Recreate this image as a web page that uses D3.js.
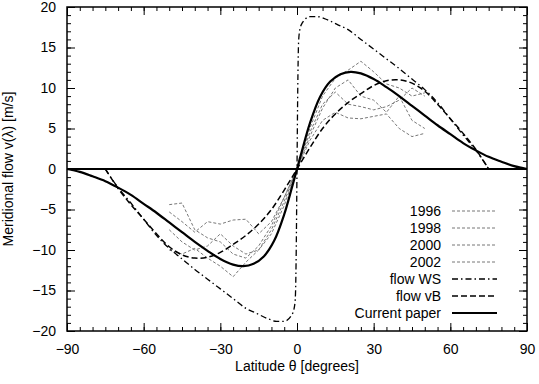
<!DOCTYPE html>
<html>
<head>
<meta charset="utf-8">
<script src="https://cdn.jsdelivr.net/npm/d3@7"></script>
<style>
  body { margin: 0; background: #fff; }
  text { font-family: 'Liberation Sans', Arial, sans-serif; }
</style>
</head>
<body>
<div id="chart"></div>
<script>
const W = 539, H = 384,
    margin = {left: 67, right: 12, top: 7, bottom: 53};

// tick labels
const xTicks = [-90, -60, -30, 0, 30, 60, 90];
const yTicks = [-20, -15, -10, -5, 0, 5, 10, 15, 20];

// current paper (solid)
const paperLat = [-90, -85, -80, -75, -70, -65, -60, -55, -50, -45, -40, -35, -30, -25, -21, -17, -13, -9, -5, -2, 0,
                  2, 5, 9, 13, 17, 21, 25, 30, 35, 40, 45, 50, 55, 60, 65, 70, 75, 80, 85, 90];
const paperV = [0, -0.35, -0.9, -1.5, -2.3, -3.2, -4.3, -5.4, -6.6, -7.8, -9.0, -10.1, -11.1, -11.8, -12.0, -11.7, -10.8, -8.9, -5.6, -2.3, 0,
                2.3, 5.6, 8.9, 10.8, 11.7, 12.0, 11.8, 11.1, 10.1, 9.0, 7.8, 6.6, 5.4, 4.3, 3.2, 2.3, 1.5, 0.9, 0.35, 0];

// flow vB (dashed)
const vbLat = [-75, -70, -65, -60, -55, -50, -45, -40, -35, -30, -25, -20, -15, -10, -5, 0,
               5, 10, 15, 20, 25, 30, 35, 40, 45, 50, 55, 60, 65, 70, 75];
const vbV = [0, -2.4, -4.4, -6.2, -8.0, -9.6, -10.6, -11.0, -10.9, -10.3, -9.3, -8.2, -6.8, -5.0, -2.6, 0,
             2.6, 5.0, 6.8, 8.2, 9.3, 10.3, 10.9, 11.0, 10.6, 9.6, 8.0, 6.2, 4.4, 2.4, 0];

// flow WS (dash-dot)
const wsLat = [-75, -70, -65, -60, -55, -50, -45, -40, -35, -30, -25, -20, -16, -12, -8, -5, -2, -1, -0.6, -0.3, 0,
               0.3, 0.6, 1, 2, 5, 8, 12, 16, 20, 25, 30, 35, 40, 45, 50, 55, 60, 65, 70, 75];
const wsV = [0, -2.3, -4.2, -6.2, -8.2, -9.8, -11.1, -12.4, -13.6, -14.8, -16.0, -17.2, -17.8, -18.4, -18.8, -18.8, -18.0, -17.0, -15.5, -10.0, 0,
             10.0, 15.5, 17.0, 18.0, 18.8, 18.8, 18.4, 17.8, 17.2, 16.0, 14.8, 13.6, 12.4, 11.1, 9.8, 8.2, 6.2, 4.2, 2.3, 0];

// observations (dotted)
const obsLat = [-50, -45, -40, -35, -30, -25, -20, -15, -10, -5, 0, 5, 10, 15, 20, 25, 30, 35, 40, 45, 50];
const obs1996 = [-4.4, -4.2, -7.5, -8.5, -9.0, -10.5, -11.0, -9.5, -7.0, -3.5, 0, 5.0, 9.0, 11.2, 12.2, 13.3, 12.0, 10.5, 10.0, 9.0, 9.4];
const obs1998 = [-5.3, -6.5, -7.8, -6.5, -6.8, -6.3, -6.2, -8.0, -6.5, -3.5, 0, 3.5, 6.0, 7.0, 6.3, 6.2, 6.5, 6.8, 5.0, 4.0, 4.4];
const obs2000 = [-7.5, -9.0, -10.0, -9.5, -8.0, -9.5, -10.5, -10.0, -7.5, -4.0, 0, 4.5, 8.0, 9.5, 8.0, 7.7, 7.3, 7.7, 8.5, 10.0, 9.0];
const obs2002 = [-10.0, -10.5, -9.8, -11.0, -12.0, -13.3, -11.5, -10.0, -8.0, -4.5, 0, 4.0, 7.5, 10.0, 11.0, 9.0, 8.5, 7.0, 9.0, 6.0, 5.0];

const legendNames = ['1996', '1998', '2000', '2002', 'flow WS', 'flow vB', 'Current paper'];

const svg = d3.select('#chart').append('svg')
    .attr('width', W)
    .attr('height', H);

const x = d3.scaleLinear().domain([-90, 90]).range([margin.left, W - margin.right]);
const y = d3.scaleLinear().domain([-20, 20]).range([H - margin.bottom, margin.top]);

const x0 = margin.left, x1 = W - margin.right, y0 = H - margin.bottom, y1 = margin.top;

// minor ticks, all four sides
const xMinor = d3.range(-90, 91, 5), yMinor = d3.range(-20, 21, 1);
function axisG(axis, tx, ty) {
    const g = svg.append('g').attr('transform', 'translate(' + tx + ',' + ty + ')').call(axis);
    g.select('.domain').remove();
    g.selectAll('line').attr('stroke', '#000').attr('stroke-width', 1);
    return g;
}
axisG(d3.axisBottom(x).tickValues(xMinor).tickSize(-4).tickFormat(''), 0, y0);
axisG(d3.axisTop(x).tickValues(xMinor).tickSize(-4).tickFormat(''), 0, y1);
axisG(d3.axisLeft(y).tickValues(yMinor).tickSize(-4).tickFormat(''), x0, 0);
axisG(d3.axisRight(y).tickValues(yMinor).tickSize(-4).tickFormat(''), x1, 0);

// major ticks
const gx = axisG(d3.axisBottom(x).tickValues(xTicks).tickSize(-8).tickPadding(13), 0, y0);
axisG(d3.axisTop(x).tickValues(xTicks).tickSize(-8).tickFormat(''), 0, y1);
const gy = axisG(d3.axisLeft(y).tickValues(yTicks).tickSize(-8).tickPadding(11), x0, 0);
axisG(d3.axisRight(y).tickValues(yTicks).tickSize(-8).tickFormat(''), x1, 0);

gx.selectAll('text').attr('font-size', 14).attr('fill', '#000')
    .attr('font-family', "'Liberation Sans', Arial, sans-serif");
gy.selectAll('text').attr('font-size', 14).attr('fill', '#000')
    .attr('font-family', "'Liberation Sans', Arial, sans-serif");

// zero line
svg.append('line')
    .attr('x1', x0).attr('x2', x1)
    .attr('y1', y(0)).attr('y2', y(0))
    .attr('stroke', '#000').attr('stroke-width', 2);

const smooth = d3.line().x(d => x(d[0])).y(d => y(d[1])).curve(d3.curveCatmullRom.alpha(0.5));
const steep = d3.line().x(d => x(d[0])).y(d => y(d[1])).curve(d3.curveMonotoneX);
const straight = d3.line().x(d => x(d[0])).y(d => y(d[1]));

const obsStyle = {stroke: '#777', width: 1, dash: '3,2'};
const wsStyle = {stroke: '#000', width: 1.3, dash: '6,3,1.5,3'};
const vbStyle = {stroke: '#000', width: 1.5, dash: '6,3'};
const paperStyle = {stroke: '#000', width: 2.2, dash: null};

const series = [
    {lat: obsLat, v: obs1996, style: obsStyle, line: straight},
    {lat: obsLat, v: obs1998, style: obsStyle, line: straight},
    {lat: obsLat, v: obs2000, style: obsStyle, line: straight},
    {lat: obsLat, v: obs2002, style: obsStyle, line: straight},
    {lat: wsLat, v: wsV, style: wsStyle, line: steep},
    {lat: vbLat, v: vbV, style: vbStyle, line: smooth},
    {lat: paperLat, v: paperV, style: paperStyle, line: smooth}
];

series.forEach(s => {
    svg.append('path')
        .attr('d', s.line(s.lat.map((d, i) => [d, s.v[i]])))
        .attr('fill', 'none')
        .attr('stroke', s.style.stroke)
        .attr('stroke-width', s.style.width)
        .attr('stroke-dasharray', s.style.dash);
});

// frame
svg.append('rect')
    .attr('x', x0).attr('y', y1)
    .attr('width', x1 - x0).attr('height', y0 - y1)
    .attr('fill', 'none').attr('stroke', '#000').attr('stroke-width', 1.5);

// legend
const legend = svg.append('g');
series.forEach((s, i) => {
    const ly = 211 + i * 17;
    legend.append('text')
        .attr('x', 441).attr('y', ly + 5)
        .attr('text-anchor', 'end')
        .attr('font-size', 14)
        .text(legendNames[i]);
    legend.append('line')
        .attr('x1', 452).attr('x2', 497)
        .attr('y1', ly).attr('y2', ly)
        .attr('stroke', s.style.stroke)
        .attr('stroke-width', s.style.width)
        .attr('stroke-dasharray', s.style.dash);
});

// axis titles
svg.append('text')
    .attr('x', (x0 + x1) / 2).attr('y', 371)
    .attr('text-anchor', 'middle')
    .attr('font-size', 14)
    .text('Latitude θ [degrees]');

svg.append('text')
    .attr('transform', 'translate(13,' + y(0) + ') rotate(-90)')
    .attr('text-anchor', 'middle')
    .attr('font-size', 14)
    .text('Meridional flow v(λ) [m/s]');
</script>
</body>
</html>
